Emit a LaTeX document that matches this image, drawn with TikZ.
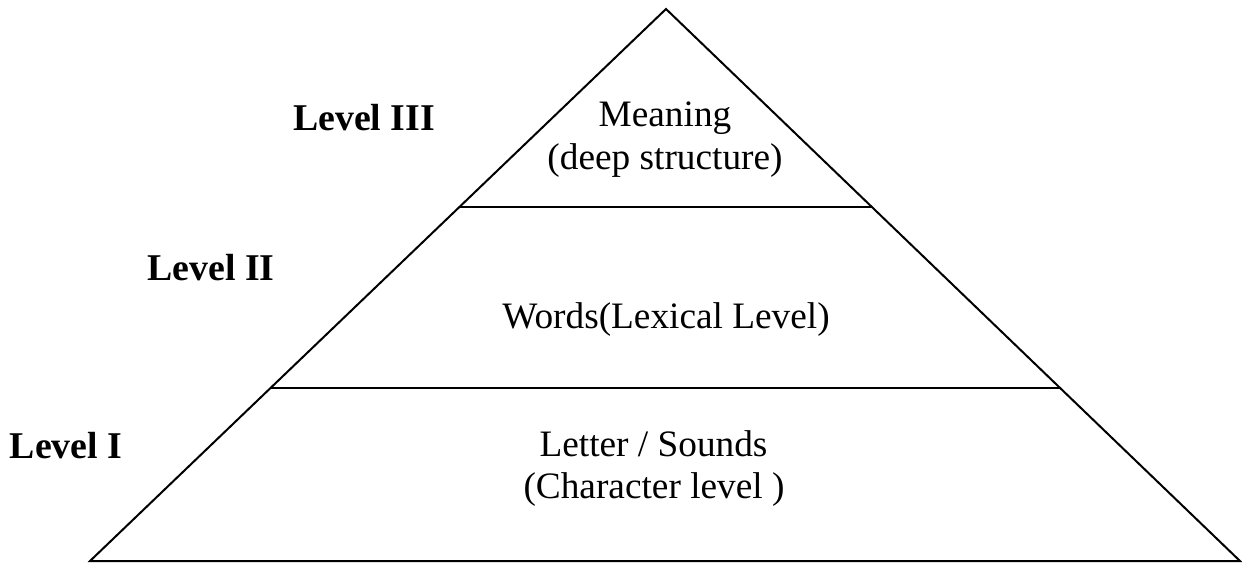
\documentclass[tikz,border=0pt]{standalone}
\usepackage{fontspec}
\setmainfont{Liberation Serif}
\usetikzlibrary{calc}
\begin{document}
\begin{tikzpicture}[x=1pt,y=-1pt,
  edge/.style={line width=2pt,line join=miter},
  lbl/.style={anchor=base,inner sep=0pt,font=\fontsize{37.8}{38}\selectfont\bfseries},
  txt/.style={anchor=base,inner sep=0pt,font=\fontsize{37.3}{38}\selectfont}]
\useasboundingbox (0,0) rectangle (1242,563);
\coordinate (A) at (666,9);
\coordinate (B) at (90,561);
\coordinate (C) at (1240,561);
\draw[edge] (B) -- (A) -- (C) -- cycle;
\coordinate (L1) at ($(A)!0.3587!(B)$);
\coordinate (R1) at ($(A)!0.3587!(C)$);
\coordinate (L2) at ($(A)!0.6866!(B)$);
\coordinate (R2) at ($(A)!0.6866!(C)$);
\draw[edge] (L1) -- (R1);
\draw[edge] (L2) -- (R2);
\node[lbl] (l3) at (364,130) {Level III};
\node[lbl] (l2) at (211,280) {Level II};
\node[lbl] (l1) at (66,458) {Level I};
\node[txt] (m1) at (665,126) {Meaning};
\node[txt] (m2) at (665,169) {(deep structure)};
\node[txt] (w) at (666,328) {Words(Lexical Level)};
\node[txt] (c1) at (653.5,456) {Letter / Sounds};
\node[txt] (c2) at (654,498) {(Character level )};
\end{tikzpicture}
\end{document}
